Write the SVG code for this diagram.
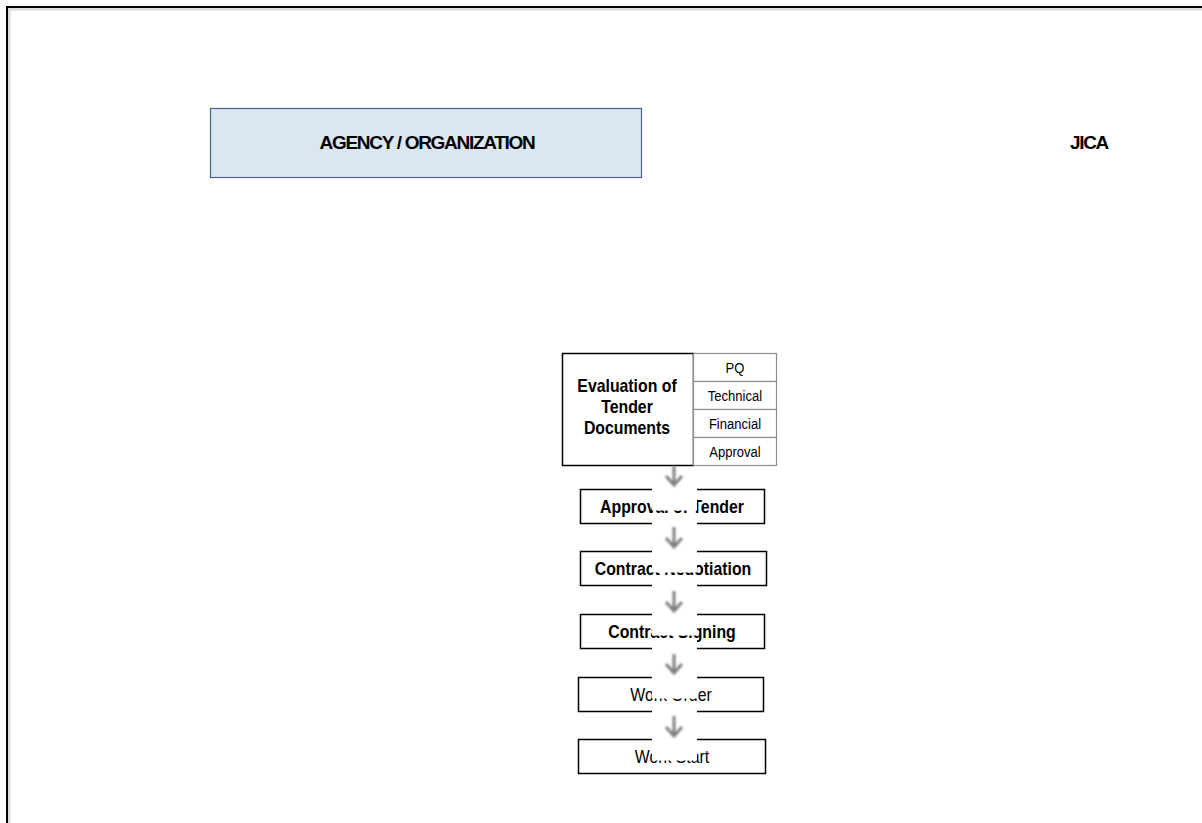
<svg xmlns="http://www.w3.org/2000/svg" width="1202" height="823" viewBox="0 0 1202 823">
  <defs>
    <style>
      .frame { fill: none; stroke: #000; stroke-width: 2; }
      .frame-shadow { fill: none; stroke: #dcdcdc; stroke-width: 3; }
      .head { fill: #dce6f2; stroke: #4a6384; stroke-width: 1.2; }
      .head-text { font-family: "Liberation Sans", Arial, sans-serif; font-weight: bold; font-size: 19px; letter-spacing: -1.3px; fill: #000; text-anchor: middle; }
      .box { fill: #fff; stroke: #000; stroke-width: 1.5; }
      .sub { fill: #fff; stroke: #8c8c8c; stroke-width: 1.2; }
      .label { font-family: "Liberation Sans", Arial, sans-serif; font-size: 18px; fill: #000; text-anchor: middle; }
      .strong { font-weight: bold; }
      .sub-label { font-family: "Liberation Sans", Arial, sans-serif; font-size: 15px; fill: #000; text-anchor: middle; }
      .mask { fill: #fff; stroke: none; }
      .arrow { fill: none; stroke: #7f7f7f; stroke-width: 3; stroke-linecap: butt; filter: url(#soft); }
    </style>
    <filter id="soft" x="-50%" y="-50%" width="200%" height="200%">
      <feGaussianBlur stdDeviation="0.8"/>
    </filter>
  </defs>

  <rect width="1202" height="823" fill="#fff"/>

  <!-- page frame: only left and top edges show -->
  <path class="frame-shadow" d="M9,823 V9 H1202"/>
  <path class="frame" d="M7,823 V7 H1202"/>

  <g id="agency">
    <rect class="head" x="210.5" y="108.5" width="431" height="69"/>
    <text class="head-text" x="427" y="149">AGENCY / ORGANIZATION</text>
  </g>

  <g id="jica">
    <text class="head-text" x="1089" y="149">JICA</text>
  </g>

  <g id="evaluation">
    <rect class="box" x="562.5" y="353.5" width="131" height="112"/>
    <text class="label strong" transform="translate(627,391.5) scale(0.88,1)">Evaluation of</text>
    <text class="label strong" transform="translate(627,412.5) scale(0.88,1)">Tender</text>
    <text class="label strong" transform="translate(627,433.5) scale(0.88,1)">Documents</text>
  </g>

  <g id="evaluation-steps">
    <rect class="sub" x="693.5" y="353.5" width="83" height="28"/>
    <rect class="sub" x="693.5" y="381.5" width="83" height="28"/>
    <rect class="sub" x="693.5" y="409.5" width="83" height="28"/>
    <rect class="sub" x="693.5" y="437.5" width="83" height="28"/>
    <text class="sub-label" transform="translate(735,373) scale(0.87,1)">PQ</text>
    <text class="sub-label" transform="translate(735,401) scale(0.87,1)">Technical</text>
    <text class="sub-label" transform="translate(735,429) scale(0.87,1)">Financial</text>
    <text class="sub-label" transform="translate(735,457) scale(0.87,1)">Approval</text>
  </g>

  <g id="approval-of-tender">
    <rect class="box" x="580.5" y="489.5" width="184" height="34"/>
    <text class="label strong" transform="translate(672,512.5) scale(0.88,1)">Approval of Tender</text>
  </g>

  <g id="contract-negotiation">
    <rect class="box" x="580.5" y="551.5" width="186" height="34"/>
    <text class="label strong" transform="translate(673,574.5) scale(0.88,1)">Contract Negotiation</text>
  </g>

  <g id="contract-signing">
    <rect class="box" x="580.5" y="614.5" width="184" height="34"/>
    <text class="label strong" transform="translate(672,637.5) scale(0.88,1)">Contract Signing</text>
  </g>

  <g id="work-order">
    <rect class="box" x="578.5" y="677.5" width="185" height="34"/>
    <text class="label" transform="translate(671,700.5) scale(0.88,1)">Work Order</text>
  </g>

  <g id="work-start">
    <rect class="box" x="578.5" y="739.5" width="187" height="34"/>
    <text class="label" transform="translate(672,762.5) scale(0.88,1)">Work Start</text>
  </g>

  <!-- flow arrows, each on a white plate that runs into the next box -->
  <g id="connectors">
    <rect class="mask" x="652" y="467" width="45" height="43.5"/>
    <path class="arrow" d="M674,466 V484 M666,476 L674,485 L682,476"/>
    <rect class="mask" x="652" y="513" width="45" height="59.5"/>
    <path class="arrow" d="M674,527 V546 M666,538 L674,547 L682,538"/>
    <rect class="mask" x="652" y="575" width="45" height="60.5"/>
    <path class="arrow" d="M674,591 V610 M666,602 L674,611 L682,602"/>
    <rect class="mask" x="652" y="638" width="45" height="60.5"/>
    <path class="arrow" d="M674,654 V672 M666,664 L674,673 L682,664"/>
    <rect class="mask" x="652" y="701" width="45" height="59.5"/>
    <path class="arrow" d="M674,716 V735 M666,727 L674,736 L682,727"/>
  </g>
</svg>
